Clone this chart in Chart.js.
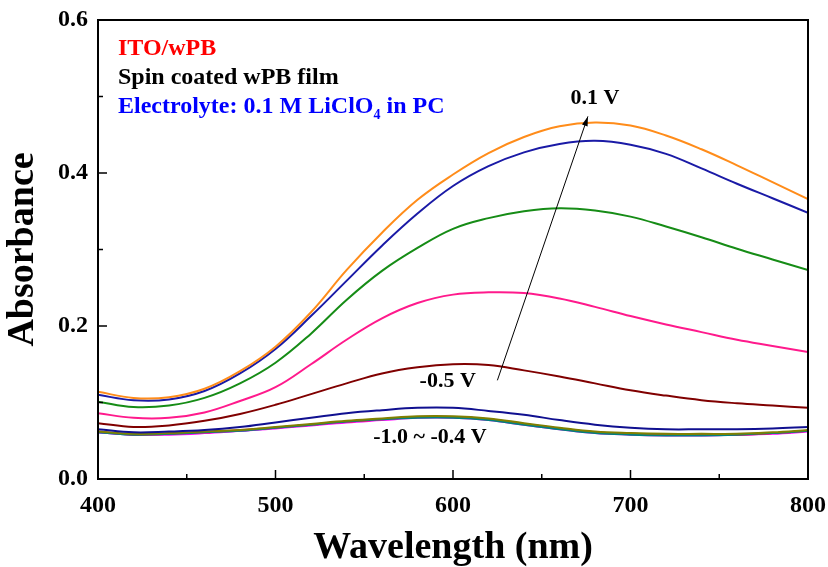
<!DOCTYPE html>
<html>
<head>
<meta charset="utf-8">
<script src="https://cdn.jsdelivr.net/npm/chart.js@4.4.0/dist/chart.umd.min.js"></script>
<style>
  html, body { margin: 0; padding: 0; background: #fff; }
  #wrap { width: 828px; height: 567px; }
</style>
</head>
<body>
<div id="wrap"><canvas id="uv_chart" width="828" height="567"></canvas></div>
<script>
"use strict"

// wavelength grid (nm)
var wavelength = [400, 420, 440, 460, 480, 500, 520, 540, 560, 580, 600, 620, 640, 660, 680, 700, 720, 740, 760, 780, 800];

// absorbance per applied potential
var abs_p01  = [0.114, 0.106, 0.107, 0.118, 0.141, 0.173, 0.218, 0.273, 0.322, 0.365, 0.398, 0.426, 0.447, 0.461, 0.466, 0.462, 0.449, 0.431, 0.410, 0.388, 0.366];
var abs_p00  = [0.110, 0.103, 0.104, 0.115, 0.138, 0.170, 0.213, 0.259, 0.305, 0.347, 0.383, 0.409, 0.427, 0.438, 0.442, 0.437, 0.425, 0.406, 0.386, 0.367, 0.348];
var abs_m01  = [0.101, 0.094, 0.096, 0.106, 0.125, 0.152, 0.190, 0.234, 0.272, 0.302, 0.327, 0.341, 0.350, 0.354, 0.351, 0.343, 0.330, 0.316, 0.301, 0.287, 0.273];
var abs_m02  = [0.086, 0.080, 0.080, 0.087, 0.102, 0.120, 0.150, 0.182, 0.210, 0.230, 0.241, 0.244, 0.243, 0.236, 0.225, 0.213, 0.202, 0.192, 0.182, 0.174, 0.166];
var abs_m05  = [0.073, 0.068, 0.070, 0.076, 0.085, 0.097, 0.111, 0.125, 0.138, 0.146, 0.150, 0.149, 0.142, 0.134, 0.125, 0.116, 0.109, 0.103, 0.099, 0.096, 0.093];
var abs_m04  = [0.065, 0.061, 0.062, 0.064, 0.068, 0.074, 0.080, 0.086, 0.090, 0.093, 0.093, 0.089, 0.084, 0.077, 0.071, 0.067, 0.065, 0.065, 0.065, 0.066, 0.068];
var abs_m06  = [0.062, 0.059, 0.060, 0.062, 0.064, 0.068, 0.072, 0.076, 0.079, 0.082, 0.082, 0.079, 0.073, 0.067, 0.062, 0.060, 0.059, 0.059, 0.059, 0.061, 0.064];
var abs_m07  = [0.061, 0.058, 0.059, 0.061, 0.063, 0.067, 0.071, 0.075, 0.078, 0.080, 0.080, 0.077, 0.071, 0.065, 0.060, 0.058, 0.057, 0.057, 0.058, 0.060, 0.063];
var abs_m08  = [0.062, 0.058, 0.059, 0.061, 0.064, 0.067, 0.071, 0.075, 0.078, 0.081, 0.081, 0.078, 0.072, 0.066, 0.061, 0.059, 0.058, 0.058, 0.058, 0.060, 0.063];
var abs_m09  = [0.061, 0.058, 0.058, 0.060, 0.063, 0.066, 0.070, 0.074, 0.077, 0.080, 0.080, 0.077, 0.071, 0.065, 0.060, 0.058, 0.057, 0.057, 0.058, 0.059, 0.062];
var abs_m10  = [0.061, 0.058, 0.059, 0.061, 0.063, 0.067, 0.071, 0.075, 0.078, 0.081, 0.081, 0.078, 0.072, 0.066, 0.061, 0.059, 0.058, 0.058, 0.058, 0.060, 0.063];

// axis ticks
var xTicks = [400, 500, 600, 700, 800];
var xMinorTicks = [450, 550, 650, 750];
var yTicks = [0.0, 0.2, 0.4, 0.6];
var yMinorTicks = [0.1, 0.3, 0.5];

var SERIF = "'Liberation Serif', 'Times New Roman', serif";

function toPoints(ys) {
    return wavelength.map(function(x, i){ return {x: x, y: ys[i]}; });
}

function line(label, ys, color) {
    return {
        label: label,
        data: toPoints(ys),
        borderColor: color,
        backgroundColor: color,
        borderWidth: 2,
        pointRadius: 0,
        fill: false,
        tension: 0.4
    };
}

// dataset 0 ends up on top
var datasets = [
    line('0.1 V', abs_p01, '#ff8c1a'),
    line('0.0 V', abs_p00, '#1a1aa6'),
    line('-0.1 V', abs_m01, '#168c16'),
    line('-0.2 V', abs_m02, '#ff1a8c'),
    line('-0.5 V', abs_m05, '#800000'),
    line('-0.4 V', abs_m04, '#101090'),
    line('-0.6 V', abs_m06, '#808000'),
    line('-0.7 V', abs_m07, '#008080'),
    line('-0.8 V', abs_m08, '#ff2020'),
    line('-0.9 V', abs_m09, '#ff00ff'),
    line('-1.0 V', abs_m10, '#2020ff')
];

// frame, inward ticks, annotations
var decorPlugin = {
    id: 'decor',
    afterDatasetsDraw: function(chart) {
        var ctx = chart.ctx;
        var a = chart.chartArea;
        var xs = chart.scales.x, ys = chart.scales.y;
        ctx.save();
        ctx.strokeStyle = '#000';
        ctx.lineWidth = 2;
        ctx.strokeRect(a.left, a.top, a.right - a.left, a.bottom - a.top);
        ctx.lineWidth = 1.5;
        ctx.beginPath();
        xTicks.forEach(function(v){ var p = xs.getPixelForValue(v); ctx.moveTo(p, a.bottom); ctx.lineTo(p, a.bottom - 9); });
        xMinorTicks.forEach(function(v){ var p = xs.getPixelForValue(v); ctx.moveTo(p, a.bottom); ctx.lineTo(p, a.bottom - 5); });
        yTicks.forEach(function(v){ var p = ys.getPixelForValue(v); ctx.moveTo(a.left, p); ctx.lineTo(a.left + 9, p); });
        yMinorTicks.forEach(function(v){ var p = ys.getPixelForValue(v); ctx.moveTo(a.left, p); ctx.lineTo(a.left + 5, p); });
        ctx.stroke();

        // arrow from -0.5 V to 0.1 V
        var x0 = xs.getPixelForValue(625), y0 = ys.getPixelForValue(0.129);
        var x1 = xs.getPixelForValue(676), y1 = ys.getPixelForValue(0.474);
        ctx.lineWidth = 1;
        ctx.beginPath();
        ctx.moveTo(x0, y0);
        ctx.lineTo(x1, y1);
        ctx.stroke();
        var ang = Math.atan2(y1 - y0, x1 - x0);
        ctx.beginPath();
        ctx.moveTo(x1, y1);
        ctx.lineTo(x1 - 10 * Math.cos(ang - 0.3), y1 - 10 * Math.sin(ang - 0.3));
        ctx.lineTo(x1 - 10 * Math.cos(ang + 0.3), y1 - 10 * Math.sin(ang + 0.3));
        ctx.closePath();
        ctx.fillStyle = '#000';
        ctx.fill();

        // labels
        ctx.font = 'bold 24px ' + SERIF;
        ctx.textBaseline = 'alphabetic';
        ctx.textAlign = 'left';
        var tx = a.left + 20;
        ctx.fillStyle = '#ff0000';
        ctx.fillText('ITO/wPB', tx, 55);
        ctx.fillStyle = '#000';
        ctx.fillText('Spin coated wPB film', tx, 84);
        ctx.fillStyle = '#0000ff';
        var s1 = 'Electrolyte: 0.1 M LiClO';
        ctx.fillText(s1, tx, 113);
        var w1 = ctx.measureText(s1).width;
        ctx.font = 'bold 14px ' + SERIF;
        ctx.fillText('4', tx + w1, 119);
        var w2 = ctx.measureText('4').width;
        ctx.font = 'bold 24px ' + SERIF;
        ctx.fillText(' in PC', tx + w1 + w2, 113);

        ctx.fillStyle = '#000';
        ctx.textAlign = 'center';
        ctx.textBaseline = 'middle';
        ctx.font = 'bold 22px ' + SERIF;
        ctx.fillText('0.1 V', xs.getPixelForValue(680), ys.getPixelForValue(0.497));
        ctx.fillText('-0.5 V', xs.getPixelForValue(597), ys.getPixelForValue(0.128));
        ctx.fillText('-1.0 ~ -0.4 V', xs.getPixelForValue(587), ys.getPixelForValue(0.054));
        ctx.restore();
    }
};

var chartArea = document.getElementById('uv_chart');
var uvChart = new Chart(chartArea, {
    type: 'line',
    data: { datasets: datasets },
    plugins: [decorPlugin],
    options: {
        responsive: false,
        animation: false,
        layout: { padding: { left: 0, right: 0, top: 20, bottom: 0 } },
        plugins: {
            legend: { display: false },
            tooltip: { enabled: false }
        },
        scales: {
            x: {
                type: 'linear',
                min: 400,
                max: 800,
                afterFit: function(scale){ scale.height = 88; scale.paddingRight = 20; },
                afterBuildTicks: function(scale){ scale.ticks = xTicks.map(function(v){ return {value: v}; }); },
                grid: { display: false, drawTicks: false },
                border: { display: true, color: '#000', width: 2 },
                ticks: {
                    color: '#000',
                    padding: 12,
                    font: { family: SERIF, size: 24, weight: 'bold' }
                },
                title: {
                    display: true,
                    text: 'Wavelength (nm)',
                    color: '#000',
                    padding: 0,
                    font: { family: SERIF, size: 38, weight: 'bold', lineHeight: 1.0 }
                }
            },
            y: {
                type: 'linear',
                min: 0,
                max: 0.6,
                afterFit: function(scale){ scale.width = 98; scale.paddingTop = 0; },
                afterBuildTicks: function(scale){ scale.ticks = yTicks.map(function(v){ return {value: v}; }); },
                grid: { display: false, drawTicks: false },
                border: { display: true, color: '#000', width: 2 },
                ticks: {
                    color: '#000',
                    padding: 10,
                    font: { family: SERIF, size: 24, weight: 'bold' },
                    callback: function(v){ return Number(v).toFixed(1); }
                },
                title: {
                    display: true,
                    text: 'Absorbance',
                    color: '#000',
                    padding: 4,
                    font: { family: SERIF, size: 38, weight: 'bold', lineHeight: 1.0 }
                }
            }
        }
    }
});
</script>
</body>
</html>
